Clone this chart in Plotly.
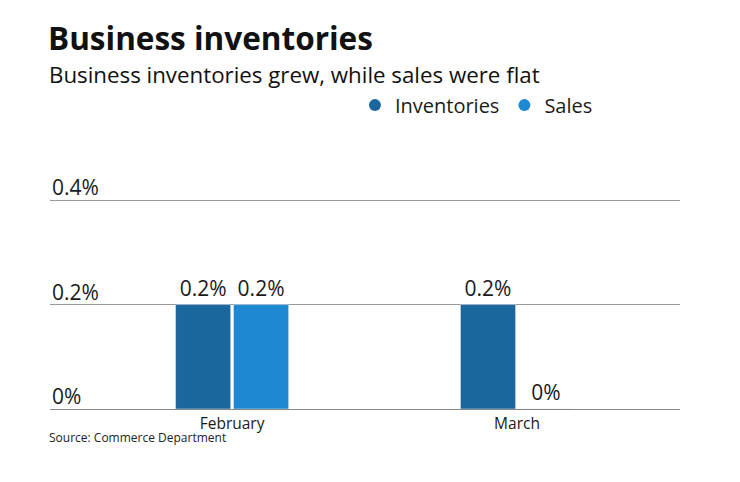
import plotly.graph_objects as go

months = ["February", "March"]
inventories = [0.2, 0.2]
sales = [0.2, 0.0]
y_ticks = [0, 0.2, 0.4]
y_tick_labels = ["0%", "0.2%", "0.4%"]

C_INV = "#1c669e"
C_SAL = "#1e88d2"
FONT = "Open Sans"

fig = go.Figure()
fig.add_trace(go.Bar(x=months, y=inventories, marker_color=C_INV, name="Inventories",
                     text=[f"{v:g}%" for v in inventories], textposition="outside",
                     textfont=dict(size=21, color="#1a1a1a"), cliponaxis=False, showlegend=False))
fig.add_trace(go.Bar(x=months, y=sales, marker_color=C_SAL, name="Sales",
                     text=[f"{v:g}%" for v in sales], textposition="outside",
                     textfont=dict(size=21, color="#1a1a1a"), cliponaxis=False, showlegend=False))
for nm, c in [("Inventories", C_INV), ("Sales", C_SAL)]:
    fig.add_trace(go.Scatter(x=[None], y=[None], mode="markers", name=nm,
                             marker=dict(symbol="circle", size=14, color=c)))

for v, lab in zip(y_ticks, y_tick_labels):
    fig.add_annotation(x=0, xref="paper", y=v, yref="y", text=lab, showarrow=False,
                       xanchor="left", yanchor="bottom", yshift=-3, xshift=0,
                       font=dict(size=21, color="#1a1a1a", family=FONT))

fig.add_annotation(x=0, xref="paper", y=1.735, yref="paper", text="<b>Business inventories</b>",
                   showarrow=False, xanchor="left", yanchor="middle", xshift=-4,
                   font=dict(size=31.5, color="#111", family=FONT))
fig.add_annotation(x=0, xref="paper", y=1.565, yref="paper",
                   text="Business inventories grew, while sales were flat",
                   showarrow=False, xanchor="left", yanchor="middle", xshift=-3,
                   font=dict(size=22.3, color="#111", family=FONT))
fig.add_annotation(x=0, xref="paper", y=-0.135, yref="paper", text="Source: Commerce Department",
                   showarrow=False, xanchor="left", yanchor="middle", xshift=-3,
                   font=dict(size=12, color="#222", family=FONT))

fig.update_layout(
    width=740, height=482,
    margin=dict(l=42, r=68, t=187, b=81),
    paper_bgcolor="white", plot_bgcolor="white",
    barmode="group", bargap=0.593, bargroupgap=0.05,
    font=dict(family=FONT, color="#1a1a1a"),
    legend=dict(orientation="h", x=0.484, xanchor="left", y=1.42, yanchor="middle",
                font=dict(size=20, family=FONT, color="#1a1a1a"), itemsizing="constant",
                itemwidth=30, bgcolor="rgba(0,0,0,0)"),
    xaxis=dict(type="category", range=[-0.639, 1.572], showgrid=False, showline=True,
               linecolor="#888", linewidth=1, ticks="", tickfont=dict(size=15.5, color="#1a1a1a"),
               fixedrange=True),
    yaxis=dict(range=[0, 0.41], tickvals=y_ticks, showticklabels=False, showgrid=True,
               gridcolor="#999", gridwidth=1, zeroline=False, fixedrange=True),
)

fig.write_html("out.html")
